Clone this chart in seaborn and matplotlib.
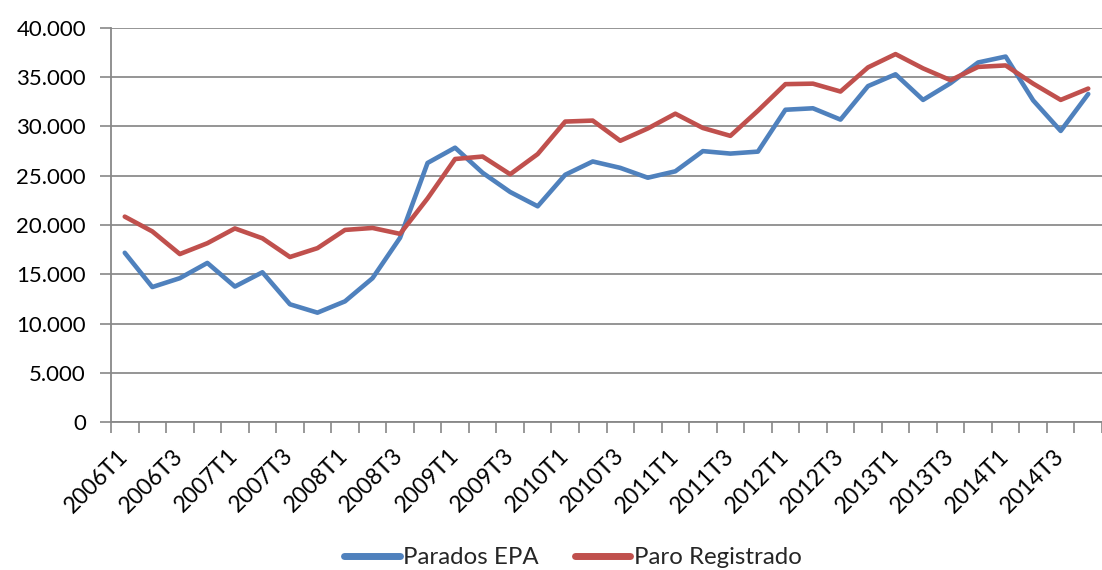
import matplotlib
matplotlib.use("Agg")
import matplotlib.pyplot as plt
import matplotlib.ticker as mticker
import numpy as np
import pandas as pd
import seaborn as sns

quarters = [f"{y}T{q}" for y in range(2006, 2015) for q in range(1, 5)]

parados_epa = [17180, 13700, 14600, 16150, 13750, 15200, 11950, 11100, 12250, 14600, 18700, 26300,
               27850, 25300, 23350, 21900, 25100, 26450, 25800, 24800, 25450, 27500, 27250, 27450,
               31700, 31850, 30700, 34100, 35300, 32700, 34400, 36500, 37100, 32650, 29550, 33300]
paro_registrado = [20850, 19350, 17050, 18150, 19650, 18650, 16750, 17650, 19500, 19700, 19100, 22700,
                   26700, 26950, 25150, 27200, 30500, 30600, 28550, 29800, 31300, 29850, 29050, 31600,
                   34300, 34350, 33550, 36000, 37350, 35900, 34700, 36050, 36200, 34350, 32700, 33850]
series_names = ["Parados EPA", "Paro Registrado"]
colors = ["#4F81BD", "#C0504D"]

df = pd.DataFrame({
    "idx": list(range(len(quarters))) * 2,
    "valor": parados_epa + paro_registrado,
    "serie": [series_names[0]] * len(quarters) + [series_names[1]] * len(quarters),
})

sns.set_theme(style="white")
plt.rcParams["font.family"] = ["Lato", "DejaVu Sans"]

fig = plt.figure(figsize=(11.02, 5.70), dpi=100)
ax = fig.add_axes([111 / 1102, (570 - 422) / 570, (1102 - 111) / 1102, (422 - 28) / 570])

sns.lineplot(data=df, x="idx", y="valor", hue="serie", palette=colors,
             linewidth=3.3, ax=ax, legend=False, sort=False)

ax.set_xlim(-0.5, len(quarters) - 1 + 0.02)
ax.set_ylim(0, 40000)
ax.set_yticks(np.arange(0, 40001, 5000))
ax.yaxis.set_major_formatter(mticker.FuncFormatter(lambda v, p: f"{int(v):,}".replace(",", ".")))
ax.set_xticks(range(0, len(quarters), 2))
ax.set_xticks(np.arange(-0.5, len(quarters), 1), minor=True)
ax.tick_params(axis="x", which="major", length=0, pad=22, colors="black")
ax.tick_params(axis="x", which="minor", length=8, width=1.2, color="#888888", direction="out", bottom=True)
ax.tick_params(axis="y", length=8, width=1.2, color="#888888", direction="out", left=True,
               labelsize=16, labelcolor="black", pad=10)
ax.set_xticklabels(quarters[::2], rotation=45, ha="right", va="center",
                   rotation_mode="anchor", fontsize=16.5, color="black")
ax.set_xlabel("")
ax.set_ylabel("")

ax.grid(axis="y", color="#8c8c8c", linewidth=1.3)
ax.set_axisbelow(True)
for s in ["top", "right"]:
    ax.spines[s].set_visible(False)
for s in ["left", "bottom"]:
    ax.spines[s].set_color("#888888")
    ax.spines[s].set_linewidth(1.3)
ax.spines["bottom"].set_zorder(3)

handles = [plt.Line2D([0], [0], color=c, linewidth=5) for c in colors]
fig.legend(handles, series_names, loc="lower center", bbox_to_anchor=(0.52, -0.035), ncol=2,
           frameon=False, fontsize=17.3, handlelength=2.3, handletextpad=0.15, columnspacing=1.5)

fig.savefig("out.png", dpi=100)
